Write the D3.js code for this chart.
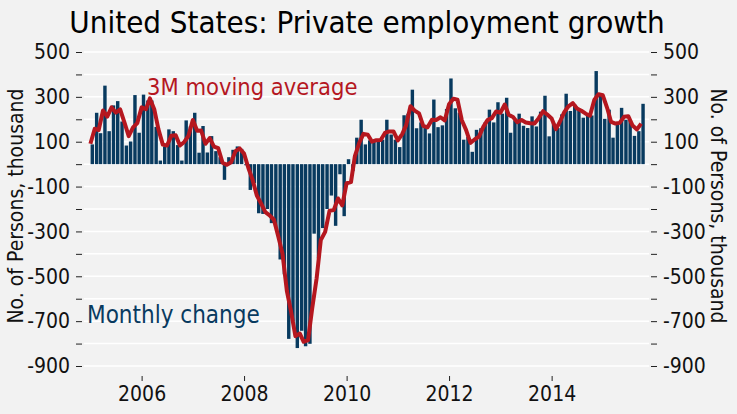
<!DOCTYPE html>
<html><head><meta charset="utf-8">
<script src="https://cdn.jsdelivr.net/npm/d3@7"></script>
<style>
html,body{margin:0;padding:0;background:#f2f2f2;}
svg{display:block;}
text{font-family:"DejaVu Sans Condensed","Liberation Sans Narrow",Arial,sans-serif;}
</style></head><body>
<svg id="chart" width="737" height="414"></svg>
<script>
// Monthly change in private employment, thousands, Jan 2005 - Oct 2015
const monthlyChange = [
  88, 229, 138, 350, 147, 262, 281, 190, 83, 101, 308, 140,
  310, 284, 284, 166, 16, 79, 155, 147, 85, 16, 195, 168,
  229, 51, 170, 52, 125, 58, 31, -70, 31, 64, 79, 68,
  -5, -115, -85, -219, -222, -200, -263, -280, -425, -491, -779, -701,
  -820, -743, -812, -801, -310, -420, -285, -200, -140, -275, -45, -232,
  22, -31, 118, 198, 88, 106, 106, 109, 109, 198, 132, 109,
  76, 218, 225, 332, 160, 186, 168, 137, 288, 165, 173, 246,
  382, 249, 230, 109, 121, 55, 153, 160, 186, 243, 186, 276,
  225, 296, 140, 195, 225, 171, 161, 213, 168, 234, 305, 124,
  183, 161, 222, 314, 237, 265, 243, 207, 225, 217, 415, 304,
  202, 243, 118, 183, 251, 198, 192, 126, 147, 269
];
// 3-month moving average, thousands
const movingAverage3M = [
  91, 158, 152, 239, 212, 253, 230, 244, 185, 125, 164, 183,
  253, 245, 293, 245, 155, 87, 83, 127, 129, 83, 99, 126,
  197, 149, 150, 91, 116, 78, 71, 6, -3, 8, 58, 70,
  47, -17, -68, -140, -175, -214, -228, -248, -323, -399, -565, -657,
  -767, -755, -792, -785, -641, -510, -338, -302, -208, -205, -153, -184,
  -85, -80, 36, 95, 135, 131, 100, 107, 108, 139, 146, 146,
  106, 134, 173, 258, 239, 226, 171, 164, 198, 197, 209, 195,
  267, 292, 287, 196, 153, 95, 110, 123, 166, 196, 205, 235,
  229, 266, 220, 210, 187, 197, 186, 182, 181, 205, 236, 221,
  204, 156, 189, 232, 258, 272, 248, 238, 225, 216, 286, 312,
  307, 250, 188, 181, 184, 211, 214, 172, 155, 181
];
const yTickValues = [500, 400, 300, 200, 100, 0, -100, -200, -300, -400, -500, -600, -700, -800, -900];
const yLabelValues = [500, 300, 100, -100, -300, -500, -700, -900];
const xTickYears = [2006, 2008, 2010, 2012, 2014];
const titleText = "United States: Private employment growth";
const yAxisTitle = "No. of Persons, thousand";
const lineLabel = "3M moving average";
const barLabel = "Monthly change";

const barColor = "#083a5f", lineColor = "#b5171f", gridColor = "#ffffff", textColor = "#111111";
const fontFam = "'DejaVu Sans Condensed','Liberation Sans Narrow',Arial,sans-serif";

const svg = d3.select("#chart");
const dates = monthlyChange.map((v, i) => new Date(2005, i, 1));
const endDate = new Date(2005, monthlyChange.length, 1);

const x = d3.scaleTime().domain([dates[0], endDate]).range([90.4, 645.5]);
const y = d3.scaleLinear().domain([-900, 500]).range([366, 52]);
const plotLeft = 84, plotRight = 649;

// gridlines
svg.append("g").selectAll("line").data(yTickValues).join("line")
  .attr("x1", plotLeft).attr("x2", plotRight)
  .attr("y1", d => y(d)).attr("y2", d => y(d))
  .attr("stroke", gridColor).attr("stroke-width", 1.5);

// left / right axes
const fmt = d => yLabelValues.includes(d) ? String(d) : "";
const leftAxis = svg.append("g").attr("transform", "translate(82,0)")
  .call(d3.axisLeft(y).tickValues(yTickValues).tickFormat(fmt).tickSize(6).tickPadding(6));
const rightAxis = svg.append("g").attr("transform", "translate(651,0)")
  .call(d3.axisRight(y).tickValues(yTickValues).tickFormat(fmt).tickSize(6).tickPadding(6));
[leftAxis, rightAxis].forEach(a => {
  a.select(".domain").remove();
  a.selectAll(".tick line").attr("stroke", "#222").attr("stroke-width", 1);
  a.selectAll(".tick text").attr("font-size", 21).attr("fill", textColor).attr("font-family", fontFam);
});

// bottom axis
const xAxis = svg.append("g").attr("transform", "translate(0,376)")
  .call(d3.axisBottom(x).tickValues(xTickYears.map(yr => new Date(yr, 0, 1)))
    .tickFormat(d3.timeFormat("%Y")).tickSize(5).tickPadding(5));
xAxis.select(".domain").remove();
xAxis.selectAll(".tick line").attr("stroke", "#222");
xAxis.selectAll(".tick text").attr("font-size", 21).attr("fill", textColor).attr("font-family", fontFam);

// bars
const monthW = (x(endDate) - x(dates[0])) / monthlyChange.length;
svg.append("g").selectAll("rect").data(monthlyChange).join("rect")
  .attr("x", (d, i) => x(dates[i]) + 0.2)
  .attr("width", monthW * 0.8)
  .attr("y", d => y(Math.max(0, d)))
  .attr("height", d => Math.abs(y(d) - y(0)))
  .attr("fill", barColor);

// moving average line
const line = d3.line().x((d, i) => x(dates[i])).y(d => y(d)).curve(d3.curveLinear);
svg.append("path").datum(movingAverage3M)
  .attr("d", line).attr("fill", "none").attr("stroke", lineColor)
  .attr("stroke-width", 4).attr("stroke-linejoin", "round");

// title
svg.append("text").attr("x", 367).attr("y", 33).attr("text-anchor", "middle")
  .attr("font-size", 31).attr("fill", "#000").text(titleText);

// axis titles
svg.append("text").attr("transform", "translate(23,206) rotate(-90)")
  .attr("text-anchor", "middle").attr("font-size", 21).attr("fill", textColor).text(yAxisTitle);
svg.append("text").attr("transform", "translate(711,206) rotate(90)")
  .attr("text-anchor", "middle").attr("font-size", 21).attr("fill", textColor).text(yAxisTitle);

// annotations
svg.append("text").attr("x", 147).attr("y", 95).attr("font-size", 23.5)
  .attr("fill", lineColor).text(lineLabel);
svg.append("text").attr("x", 87).attr("y", 323).attr("font-size", 24)
  .attr("fill", barColor).text(barLabel);
</script>
</body></html>
